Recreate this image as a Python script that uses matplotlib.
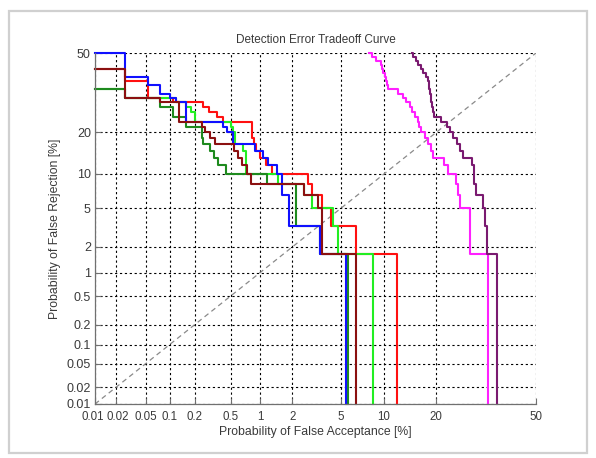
import math
import numpy as np
import matplotlib
matplotlib.use("Agg")
import matplotlib.pyplot as plt
from matplotlib.patches import Rectangle
from matplotlib.transforms import ScaledTranslation

# ---------------- data (percent) ----------------
tick_values = [0.01, 0.02, 0.05, 0.1, 0.2, 0.5, 1, 2, 5, 10, 20, 50]
tick_labels = ["0.01", "0.02", "0.05", "0.1", "0.2", "0.5", "1", "2", "5", "10", "20", "50"]

red_fa = [0.01, 0.026, 0.053, 0.11, 0.25, 0.29, 0.36, 0.41, 0.83, 0.87, 0.92, 1.0, 1.15, 1.3, 2.72, 2.94, 3.55, 4.19, 6.4, 12.0]
red_fr = [43.3, 38.3, 31.7, 30, 28.3, 26.7, 25, 23.3, 18.3, 16.7, 15, 13.3, 11.7, 10, 8.33, 6.67, 5, 3.33, 1.67, 0.01]

lgreen_fa = [0.01, 0.026, 0.12, 0.16, 0.18, 0.20, 0.50, 0.53, 0.56, 0.68, 0.72, 1.47, 2.52, 2.93, 4.32, 4.79, 8.5]
lgreen_fr = [35, 31.7, 30, 28.3, 26.7, 23.3, 21.7, 20, 16.7, 15, 10, 8.33, 6.67, 5, 3.33, 1.67, 0.01]

dgreen_fa = [0.01, 0.026, 0.076, 0.11, 0.158, 0.24, 0.25, 0.30, 0.33, 0.37, 0.45, 1.16, 2.15, 3.42, 5.65]
dgreen_fr = [35, 31.7, 28.3, 25, 21.7, 18.3, 16.7, 15, 13.3, 11.7, 10, 8.33, 3.33, 1.67, 0.01]

blue_fa = [0.01, 0.026, 0.053, 0.076, 0.10, 0.12, 0.158, 0.41, 0.455, 0.53, 0.89, 1.07, 1.19, 1.44, 1.6, 1.86, 3.42, 5.5]
blue_fr = [50, 40, 36.7, 33.3, 31.7, 30, 23.3, 21.7, 20, 16.7, 15, 13.3, 11.7, 10, 6.67, 3.33, 1.67, 0.01]

brown_fa = [0.01, 0.026, 0.076, 0.13, 0.24, 0.26, 0.30, 0.34, 0.54, 0.60, 0.66, 0.74, 0.81, 2.5, 3.3, 3.54, 6.5]
brown_fr = [43.3, 31.7, 30, 23.3, 21.7, 20, 18.3, 16.7, 15, 13.3, 11.7, 10, 8.33, 6.67, 5, 1.67, 0.01]

magenta_fa = [7.95, 8.3, 8.9, 9.5, 9.7, 9.9, 10.1, 10.3, 10.5, 10.6, 12.2, 13.1, 13.7, 14.4, 14.8, 15.4,
              15.9, 16.2, 16.6, 17.4, 18.1, 18.7, 19.2, 21.9, 22.8, 25.0, 25.5, 26.1, 28.8, 34.2]
magenta_fr = [50, 48.3, 46.7, 45, 43.3, 41.7, 40, 38.3, 36.7, 35, 33.3, 31.7, 30, 28.3, 26.7, 25,
              23.3, 21.7, 20, 18.3, 16.7, 15, 13.3, 11.7, 10, 8.33, 6.67, 5, 1.67, 0.01]

purple_fa = [14.7, 15.0, 15.6, 16.0, 16.6, 17.1, 17.7, 18.1, 18.3, 18.4, 18.5, 18.8, 18.9, 19.0, 19.2, 19.4,
             21.2, 22.7, 23.3, 24.1, 25.2, 26.0, 27.0, 29.5, 30.0, 30.2, 30.6, 32.7, 33.4, 34.0, 37.0]
purple_fr = [50, 48.3, 46.7, 45, 43.3, 41.7, 40, 38.3, 36.7, 35, 33.3, 31.7, 30, 28.3, 26.7, 25,
             23.3, 21.7, 20, 18.3, 16.7, 15, 13.3, 11.7, 10, 8.33, 6.67, 5, 3.33, 1.67, 0.01]

diag = [0.01, 50]

# ---------------- probit scale ----------------
_A = [-3.969683028665376e+01, 2.209460984245205e+02, -2.759285104469687e+02,
      1.383577518672690e+02, -3.066479806614716e+01, 2.506628277459239e+00]
_B = [-5.447609879822406e+01, 1.615858368580409e+02, -1.556989798598866e+02,
      6.680131188771972e+01, -1.328068155288572e+01]
_C = [-7.784894002430293e-03, -3.223964580411365e-01, -2.400758277161838e+00,
      -2.549671010115355e+00, 4.374664141464968e+00, 2.938163982698783e+00]
_D = [7.784695709041462e-03, 3.224671290700398e-01, 2.445134137142996e+00,
      3.754408661907416e+00]


def _ppf(p):
    p = np.clip(np.asarray(p, dtype=float), 1e-12, 1 - 1e-12)
    plow = 0.02425
    q = p - 0.5
    r = q * q
    central = (((((_A[0]*r+_A[1])*r+_A[2])*r+_A[3])*r+_A[4])*r+_A[5])*q / \
              (((((_B[0]*r+_B[1])*r+_B[2])*r+_B[3])*r+_B[4])*r+1)
    ql = np.sqrt(-2*np.log(p))
    low = (((((_C[0]*ql+_C[1])*ql+_C[2])*ql+_C[3])*ql+_C[4])*ql+_C[5]) / \
          ((((_D[0]*ql+_D[1])*ql+_D[2])*ql+_D[3])*ql+1)
    qh = np.sqrt(-2*np.log(1-p))
    high = -(((((_C[0]*qh+_C[1])*qh+_C[2])*qh+_C[3])*qh+_C[4])*qh+_C[5]) / \
           ((((_D[0]*qh+_D[1])*qh+_D[2])*qh+_D[3])*qh+1)
    return np.where(p < plow, low, np.where(p > 1 - plow, high, central))


_erf = np.vectorize(math.erf, otypes=[float])


def fwd(pct):
    return _ppf(np.asarray(pct, dtype=float) / 100.0)


def inv(z):
    z = np.asarray(z, dtype=float)
    return 50.0 * (1.0 + _erf(z / math.sqrt(2.0)))


# ---------------- figure ----------------
plt.rcParams['font.family'] = ['Liberation Sans', 'DejaVu Sans']
fig = plt.figure(figsize=(5.96, 4.58), dpi=100)
fig.patch.set_facecolor('white')

# picture frame
fig.patches.append(Rectangle((9/596, 1-453/458), 578/596, 442/458, transform=fig.transFigure,
                             fill=False, edgecolor='#d0d0d0', linewidth=1.6, zorder=0))

ax = fig.add_axes([95/596, 1-404/458, 441/596, 351/458])
ax.set_xscale('function', functions=(fwd, inv))
ax.set_yscale('function', functions=(fwd, inv))
ax.set_xlim(0.01, 50)
ax.set_ylim(0.01, 50)

ax.set_xticks(tick_values)
ax.set_xticklabels(tick_labels)
ax.set_yticks(tick_values)
ax.set_yticklabels(tick_labels)
ax.minorticks_off()

ax.grid(True, which='major', color='black', linestyle=(0, (2, 2.4)), linewidth=0.8)
ax.set_axisbelow(True)
for s in ['top', 'right']:
    ax.spines[s].set_visible(False)
for s in ['left', 'bottom']:
    ax.spines[s].set_color('#707070')
    ax.spines[s].set_linewidth(0.9)
ax.tick_params(direction='in', length=4, width=0.8, color='#707070',
               labelcolor='#3a3a3a')
ax.tick_params(axis='x', labelsize=8.3, pad=5)
ax.tick_params(axis='y', labelsize=9, pad=3)

# nudge the two crowded leftmost x labels apart by a couple of pixels
xl = ax.get_xticklabels()
xl[0].set_transform(xl[0].get_transform() + ScaledTranslation(-2.5/100, 0, fig.dpi_scale_trans))
xl[1].set_transform(xl[1].get_transform() + ScaledTranslation(2.0/100, 0, fig.dpi_scale_trans))

ax.plot(diag, diag, color='#8a8a8a', linestyle=(0, (4, 3)), linewidth=0.9)

lw = 1.5
series = [
    (red_fa, red_fr, '#ff1010'),
    (lgreen_fa, lgreen_fr, '#22ee22'),
    (dgreen_fa, dgreen_fr, '#1e8a1e'),
    (blue_fa, blue_fr, '#1010ff'),
    (brown_fa, brown_fr, '#8b1010'),
    (magenta_fa, magenta_fr, '#ff20ff'),
    (purple_fa, purple_fr, '#7a1a70'),
]
for fa, fr, c in series:
    ax.plot(fa, fr, drawstyle='steps-post', color=c, linewidth=lw, clip_on=False)

ax.set_title('Detection Error Tradeoff Curve', fontsize=8.5, color='#3a3a3a', pad=7)
ax.set_xlabel('Probability of False Acceptance [%]', fontsize=8.8, color='#3a3a3a', labelpad=2)
ax.set_ylabel('Probability of False Rejection [%]', fontsize=8.8, color='#3a3a3a', labelpad=4)

fig.savefig('out.png', dpi=100, facecolor='white')
